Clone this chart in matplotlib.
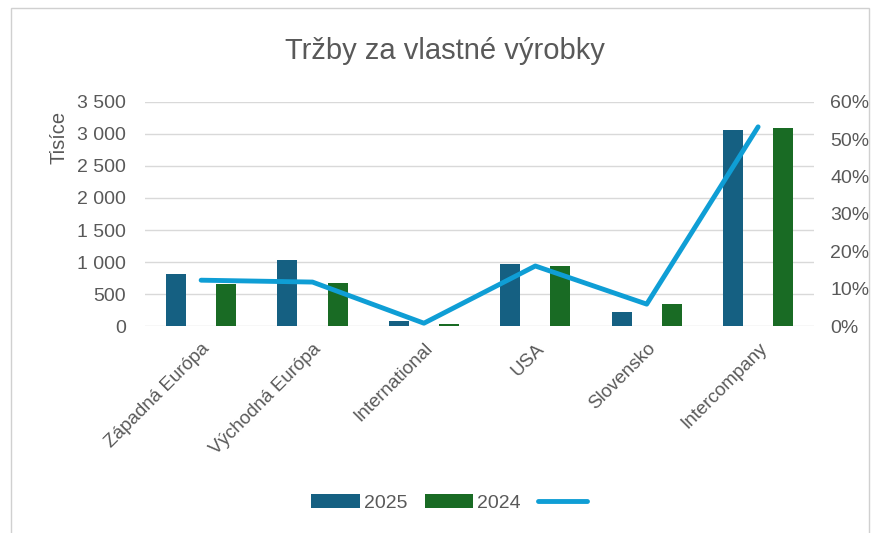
import matplotlib.pyplot as plt
import numpy as np
from matplotlib.ticker import FuncFormatter

categories = ['Západná Európa', 'Východná Európa', 'International', 'USA', 'Slovensko', 'Intercompany']
sales_2025 = [812, 1031, 78, 969, 219, 3062]
sales_2024 = [656, 672, 31, 937, 344, 3094]
share = [0.123, 0.118, 0.008, 0.161, 0.059, 0.533]

c2025 = '#156082'
c2024 = '#196B24'
cline = '#0F9ED5'
grey = '#595959'

plt.rcParams['font.family'] = ['Liberation Sans', 'DejaVu Sans']

fig = plt.figure(figsize=(8.76, 5.33), dpi=100)
ax = fig.add_axes([0.166, 0.388, 0.763, 0.421])
ax2 = ax.twinx()

x = np.arange(len(categories))
w = 0.18
ax.bar(x - 0.225, sales_2025, w, color=c2025, label='2025', zorder=3)
ax.bar(x + 0.225, sales_2024, w, color=c2024, label='2024', zorder=3)
ax2.plot(x, share, color=cline, lw=3.5, solid_capstyle='round', label=' ', zorder=4)

ax.set_xlim(-0.5, len(categories) - 0.5)
ax.set_ylim(0, 3500)
ax.set_yticks(range(0, 3501, 500))
ax.yaxis.set_major_formatter(FuncFormatter(lambda v, p: f'{int(v):,}'.replace(',', ' ')))
ax2.set_ylim(0, 0.6)
ax2.set_yticks(np.arange(0, 0.61, 0.1))
ax2.yaxis.set_major_formatter(FuncFormatter(lambda v, p: f'{v*100:.0f}%'))

ax.grid(axis='y', color='#D9D9D9', lw=1, zorder=0)
ax.set_axisbelow(True)
for a in (ax, ax2):
    for s in a.spines.values():
        s.set_visible(False)
    a.tick_params(length=0, labelsize=14, colors=grey)
ax.tick_params(axis='y', pad=14)
ax2.tick_params(axis='y', pad=12)

ax.set_xticks(x)
ax.set_xticklabels(categories, rotation=45, ha='right', rotation_mode='anchor', fontsize=13.5, color=grey)
ax.tick_params(axis='x', pad=10)
ax.set_ylabel('Tisíce', fontsize=14.5, color=grey)
ax.yaxis.set_label_coords(-0.115, 0.84)

fig.text(0.508, 0.905, 'Tržby za vlastné výrobky', ha='center', va='center', fontsize=21, color=grey)

h1, l1 = ax.get_legend_handles_labels()
h2, l2 = ax2.get_legend_handles_labels()
fig.legend(h1 + h2, ['2025', '2024', ''], loc='center', bbox_to_anchor=(0.515, 0.057), ncol=3,
           frameon=False, fontsize=14, labelcolor=grey, handlelength=2.5, handleheight=0.8,
           columnspacing=0.9, handletextpad=0.2)

fig.patches.append(plt.Rectangle((0.012, -0.01), 0.98, 0.995, transform=fig.transFigure,
                                 fill=False, edgecolor='#D0D0D0', lw=1))

fig.savefig('out.png', dpi=100)
